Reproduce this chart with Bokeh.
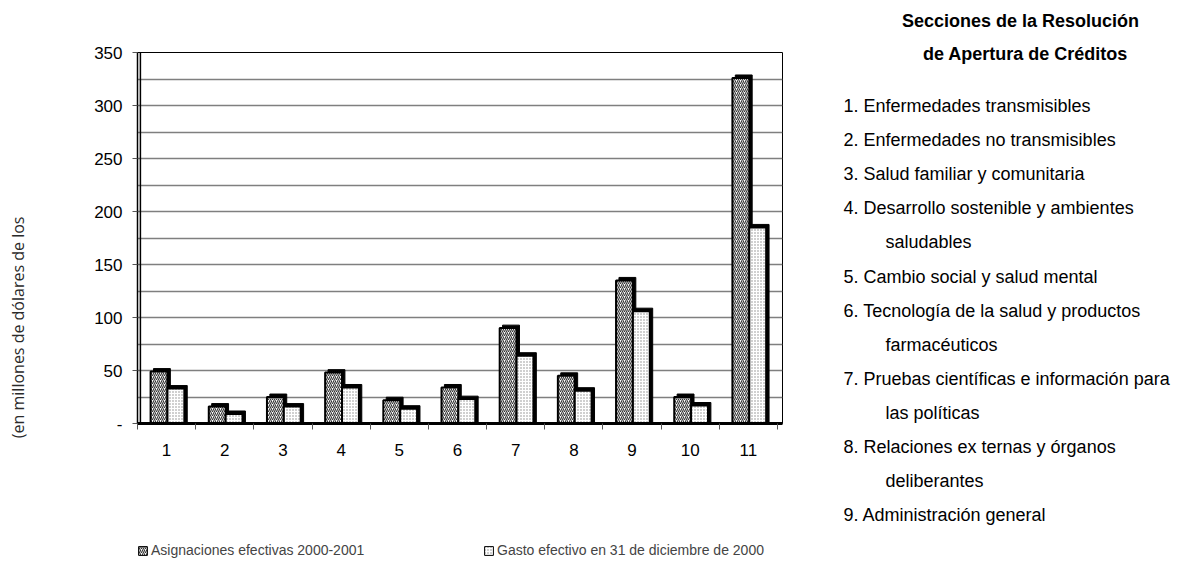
import numpy as np
from bokeh.plotting import figure
from bokeh.layouts import row, column
from bokeh.models import FixedTicker, Span, Legend, LegendItem, ColumnDataSource
from bokeh.core.properties import value
from bokeh.embed import file_html
from bokeh.resources import INLINE

# ---- data ----
categories = [1, 2, 3, 4, 5, 6, 7, 8, 9, 10, 11]
asignaciones = [49, 16, 25, 48, 22, 34, 90, 45, 135, 25, 326]
gasto = [33, 9, 16, 34, 14, 23, 64, 31, 106, 17, 185]
y_ticks = [0, 50, 100, 150, 200, 250, 300, 350]
series_names = ["Asignaciones efectivas 2000-2001", "Gasto efectivo en 31 de diciembre de 2000"]
list_title = ["Secciones de la Resolución", "de Apertura de Créditos"]
list_lines = [
    ("1. Enfermedades transmisibles", 0),
    ("2. Enfermedades no transmisibles", 0),
    ("3. Salud familiar y  comunitaria", 0),
    ("4. Desarrollo sostenible y  ambientes", 0),
    ("saludables", 1),
    ("5. Cambio social y  salud mental", 0),
    ("6. Tecnología de la salud y  productos", 0),
    ("farmacéuticos", 1),
    ("7. Pruebas científicas e información para", 0),
    ("las políticas", 1),
    ("8. Relaciones ex ternas y  órganos", 0),
    ("deliberantes", 1),
    ("9. Administración general", 0),
]
y_label = "(en millones de dólares de los"

FONT = "Liberation Sans"

# ---- layout (page pixels) ----
CHART_W, CHART_H = 800, 535
FRAME_L, FRAME_R, FRAME_T, FRAME_B = 137, 782, 52, 423
TEXT_W, TOTAL_H = 390, 572
LEG_H = TOTAL_H - CHART_H

p = figure(width=CHART_W, height=CHART_H, output_backend="svg", toolbar_location=None,
           x_range=(0.5, 11.586), y_range=(0, 350),
           min_border_left=FRAME_L, min_border_top=FRAME_T,
           min_border_bottom=CHART_H - FRAME_B, min_border_right=CHART_W - FRAME_R)
p.outline_line_color = "black"
p.outline_line_width = 1

# grid
p.xgrid.visible = False
p.ygrid.ticker = FixedTicker(ticks=list(range(0, 351, 25)))
p.ygrid.grid_line_color = "#7f7f7f"
p.ygrid.grid_line_width = 1.3

# y axis
p.yaxis.ticker = FixedTicker(ticks=y_ticks)
p.yaxis.major_label_overrides = {0: "-"}
p.yaxis.axis_line_color = "black"
p.yaxis.axis_line_width = 1.5
p.yaxis.major_tick_out = 5
p.yaxis.major_tick_in = 0
p.yaxis.minor_tick_line_color = None
p.yaxis.major_tick_line_color = "#555555"
p.yaxis.major_label_text_font = FONT
p.yaxis.major_label_text_font_size = "17px"
p.yaxis.major_label_text_color = "black"
p.yaxis.major_label_standoff = 10
pad = "\u00a0" * 43
p.yaxis.axis_label = y_label + pad
p.yaxis.axis_label_text_font = "Open Sans"
p.yaxis.axis_label_text_font_size = "16px"
p.yaxis.axis_label_text_font_style = "normal"
p.yaxis.axis_label_text_color = "#2a2a2a"
p.yaxis.axis_label_standoff = 62

# x axis
p.xaxis.ticker = FixedTicker(ticks=categories,
                             minor_ticks=[c - 0.5 for c in categories] + [categories[-1] + 0.5])
p.xaxis.major_tick_line_color = None
p.xaxis.minor_tick_out = 6
p.xaxis.minor_tick_in = 0
p.xaxis.minor_tick_line_color = "#555555"
p.xaxis.axis_line_color = "black"
p.xaxis.axis_line_width = 3
p.xaxis.major_label_text_font = FONT
p.xaxis.major_label_text_font_size = "17px"
p.xaxis.major_label_text_color = "black"
p.xaxis.major_label_standoff = 14

# inner wall line
p.add_layout(Span(location=0.55, dimension="height", line_color="black", line_width=1.5))

# bars with 3D-like depth shadow
bw = 0.29
off1, off2 = -0.13, 0.16
dx = 0.05   # ~3px
dy = 2.8    # ~3px
x1 = [c + off1 for c in categories]
x2 = [c + off2 for c in categories]

src = ColumnDataSource(dict(
    x1=x1, x2=x2, a=asignaciones, g=gasto,
    x1s=[v + dx for v in x1], x2s=[v + dx for v in x2],
    a_s=[v + dy for v in asignaciones], g_s=[v + dy for v in gasto],
))

style1 = dict(fill_color="white", hatch_pattern="/", hatch_scale=4, hatch_weight=1.1,
              hatch_color="#333333", line_color="black", line_width=2)
style2 = dict(fill_color="white", hatch_pattern=".", hatch_scale=3, hatch_weight=1,
              hatch_color="#8a8a8a", line_color="black", line_width=2)

p.vbar(x="x1s", top="a_s", bottom=0, width=bw, source=src, fill_color="black", line_color="black")
p.vbar(x="x1", top="a", bottom=0, width=bw, source=src, **style1)
p.vbar(x="x2s", top="g_s", bottom=0, width=bw, source=src, fill_color="black", line_color="black")
p.vbar(x="x2", top="g", bottom=0, width=bw, source=src, **style2)

# ---- legend strip below the chart (its frame aligns with the chart frame) ----
lg = figure(width=CHART_W, height=LEG_H, output_backend="svg", toolbar_location=None,
            x_range=(0, 1), y_range=(0, 1), x_axis_type=None, y_axis_type=None,
            min_border=0, min_border_left=0, min_border_right=0, min_border_top=0,
            min_border_bottom=0)
lg.outline_line_color = None
lg.grid.visible = False
dummy = ColumnDataSource(dict(x=np.array([np.nan]), top=np.array([np.nan])))
lstyle1 = dict(style1, line_width=1)
lstyle2 = dict(style2, line_width=1)
d1 = lg.vbar(x="x", top="top", width=1, source=dummy, **lstyle1)
d2 = lg.vbar(x="x", top="top", width=1, source=dummy, **lstyle2)
for r, name, lx in [(d1, series_names[0], 0), (d2, series_names[1], 483 - FRAME_L)]:
    leg = Legend(items=[LegendItem(label=name, renderers=[r])], location=(lx, 14),
                 padding=0, margin=0, glyph_width=11, glyph_height=11, label_standoff=3,
                 label_text_font=FONT, label_text_font_size="14px", label_height=16,
                 border_line_color=None, background_fill_alpha=0)
    lg.add_layout(leg, "center")

# ---- text panel on the right ----
tf = figure(width=TEXT_W, height=TOTAL_H, output_backend="svg", toolbar_location=None,
            x_range=(CHART_W, CHART_W + TEXT_W), y_range=(TOTAL_H, 0),
            x_axis_type=None, y_axis_type=None, min_border=0, min_border_left=0,
            min_border_right=0, min_border_top=0, min_border_bottom=0)
tf.outline_line_color = None
tf.grid.visible = False
tf.text(x=[1020, 1025], y=[20, 53], text=list_title, text_font=value(FONT),
        text_font_size="18px", text_font_style="bold", text_align="center",
        text_baseline="middle", text_color="black")
lx = [843 + (42 if ind else 0) for _, ind in list_lines]
ly = [105.5 + 34.1 * i for i in range(len(list_lines))]
tf.text(x=lx, y=ly, text=[t for t, _ in list_lines], text_font=value(FONT),
        text_font_size="18px", text_align="left", text_baseline="middle", text_color="black")

layout = row(column(p, lg, spacing=0), tf, spacing=0)
open("out.html", "w").write(file_html(layout, INLINE))
